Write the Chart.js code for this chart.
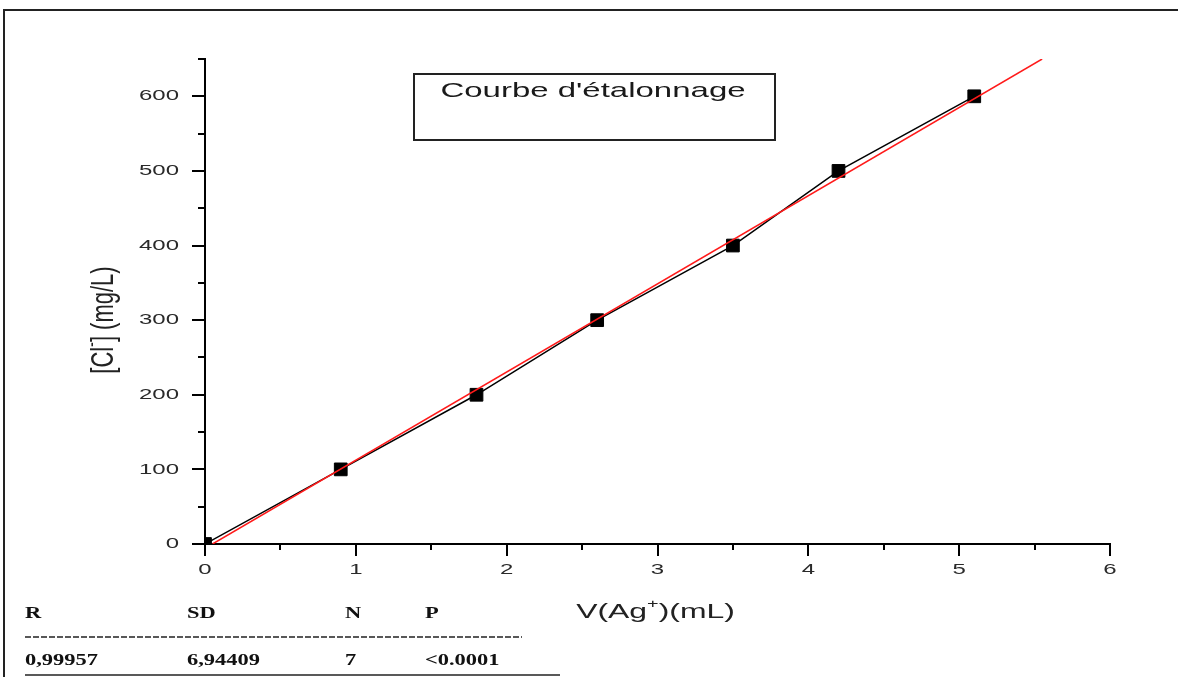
<!DOCTYPE html>
<html>
<head>
<meta charset="utf-8">
<title>Courbe d'étalonnage</title>
<script src="https://cdn.jsdelivr.net/npm/chart.js@4.4.0/dist/chart.umd.min.js"></script>
<style>
    html, body { margin: 0; padding: 0; background: #fff; }
    #wrap { width: 1178px; height: 677px; }
</style>
</head>
<body>
<div id="wrap"><canvas id="etalonChart" width="1178" height="677"></canvas></div>
<script>
// Mesures (volume d'AgNO3 versé / concentration en chlorures)
const volumes = [0, 0.9, 1.8, 2.6, 3.5, 4.2, 5.1];
const concentrations = [0, 100, 200, 300, 400, 500, 600];

// Droite d'ajustement linéaire (extrémités)
const fitVolumes = [0.05, 5.55];
const fitConcentrations = [0, 650];

// Tableau des statistiques sous le graphe
const statHeaders = ['R', 'SD', 'N', 'P'];
const statValues = ['0,99957', '6,94409', '7', '<0.0001'];

const chartTitle = "Courbe d'étalonnage";

// texte étiré horizontalement, comme sur la figure d'origine
function stretchText(ctx, text, x, y, sx, align) {
    ctx.save();
    ctx.translate(x, y);
    ctx.scale(sx, 1);
    ctx.textAlign = align || 'left';
    ctx.fillText(text, 0, 0);
    ctx.restore();
}

const decorPlugin = {
    id: 'decor',
    afterDraw(chart) {
        const ctx = chart.ctx;
        const xs = chart.scales.x;
        const ys = chart.scales.y;
        const area = chart.chartArea;

        ctx.save();

        // cadre
        ctx.strokeStyle = '#222';
        ctx.lineWidth = 2;
        ctx.beginPath();
        ctx.moveTo(4, 677);
        ctx.lineTo(4, 10);
        ctx.lineTo(1178, 10);
        ctx.stroke();

        // graduations
        ctx.strokeStyle = '#000';
        ctx.lineWidth = 2;
        ys.ticks.forEach(t => {
            const y = Math.round(ys.getPixelForValue(t.value));
            const major = t.value % 100 === 0;
            const len = major ? 13 : 7;
            ctx.beginPath();
            ctx.moveTo(area.left - len, y);
            ctx.lineTo(area.left, y);
            ctx.stroke();
        });
        xs.ticks.forEach(t => {
            const x = Math.round(xs.getPixelForValue(t.value));
            const major = Number.isInteger(t.value);
            const len = major ? 12 : 6;
            ctx.beginPath();
            ctx.moveTo(x, area.bottom);
            ctx.lineTo(x, area.bottom + len);
            ctx.stroke();
        });

        // libellés des graduations
        ctx.fillStyle = '#2a2a2a';
        ctx.font = '15px "Liberation Sans", Arial, sans-serif';
        ctx.textBaseline = 'middle';
        ys.ticks.forEach(t => {
            if (t.value % 100 !== 0) return;
            stretchText(ctx, String(t.value), area.left - 26, ys.getPixelForValue(t.value), 1.6, 'right');
        });
        xs.ticks.forEach(t => {
            if (!Number.isInteger(t.value)) return;
            stretchText(ctx, String(t.value), xs.getPixelForValue(t.value), area.bottom + 26, 1.6, 'center');
        });

        // titre de l'axe x : V(Ag+)(mL)
        ctx.fillStyle = '#222';
        ctx.font = '21px "Liberation Sans", Arial, sans-serif';
        ctx.textBaseline = 'alphabetic';
        const sx = 1.52;
        const part1 = 'V(Ag', part2 = ')(mL)';
        const supFont = '13px "Liberation Sans", Arial, sans-serif';
        const w1 = ctx.measureText(part1).width;
        const w3 = ctx.measureText(part2).width;
        ctx.font = supFont;
        const w2 = ctx.measureText('+').width;
        const total = (w1 + w2 + w3) * sx;
        let x0 = (area.left + area.right) / 2 - total / 2 - 2;
        const base = 618;
        ctx.font = '21px "Liberation Sans", Arial, sans-serif';
        stretchText(ctx, part1, x0, base, sx, 'left');
        ctx.font = supFont;
        stretchText(ctx, '+', x0 + w1 * sx, base - 10, sx, 'left');
        ctx.font = '21px "Liberation Sans", Arial, sans-serif';
        stretchText(ctx, part2, x0 + (w1 + w2) * sx, base, sx, 'left');

        // titre de l'axe y : [Cl-] (mg/L)
        const yFont = '22px "Liberation Sans", Arial, sans-serif';
        const ySup = '14px "Liberation Sans", Arial, sans-serif';
        ctx.font = yFont;
        const a1 = ctx.measureText('[Cl').width;
        const a3 = ctx.measureText('] (mg/L)').width;
        ctx.font = ySup;
        const a2 = ctx.measureText('-').width;
        const len = a1 + a2 + a3;
        ctx.save();
        ctx.translate(113, 320 + len / 2);
        ctx.scale(1.4, 1);
        ctx.rotate(-Math.PI / 2);
        ctx.textBaseline = 'alphabetic';
        ctx.textAlign = 'left';
        ctx.font = yFont;
        ctx.fillText('[Cl', 0, 0);
        ctx.font = ySup;
        ctx.fillText('-', a1, -11);
        ctx.font = yFont;
        ctx.fillText('] (mg/L)', a1 + a2, 0);
        ctx.restore();

        // cartouche du titre
        ctx.strokeStyle = '#222';
        ctx.lineWidth = 2;
        ctx.strokeRect(414, 74, 361, 66);
        ctx.fillStyle = '#1a1a1a';
        ctx.font = '21px "Liberation Sans", Arial, sans-serif';
        ctx.textBaseline = 'middle';
        stretchText(ctx, chartTitle, 593, 91, 1.57, 'center');

        // tableau des statistiques
        const cols = [25, 187, 345, 425];
        ctx.fillStyle = '#111';
        ctx.font = 'bold 17px "Liberation Serif", "Times New Roman", serif';
        ctx.textBaseline = 'middle';
        statHeaders.forEach((h, i) => stretchText(ctx, h, cols[i], 614, 1.32, 'left'));
        statValues.forEach((v, i) => stretchText(ctx, v, cols[i], 661, 1.32, 'left'));

        ctx.strokeStyle = '#222';
        ctx.lineWidth = 1.5;
        ctx.setLineDash([6, 2]);
        ctx.beginPath();
        ctx.moveTo(25, 637);
        ctx.lineTo(522, 637);
        ctx.stroke();
        ctx.setLineDash([]);
        ctx.beginPath();
        ctx.moveTo(25, 675);
        ctx.lineTo(560, 675);
        ctx.stroke();

        ctx.restore();
    }
};

const ctx = document.getElementById('etalonChart').getContext('2d');

new Chart(ctx, {
    type: 'scatter',
    data: {
        datasets: [
            {
                label: 'Ajustement linéaire',
                data: fitVolumes.map((v, i) => ({ x: v, y: fitConcentrations[i] })),
                showLine: true,
                borderColor: '#ff1a1a',
                borderWidth: 1.5,
                pointRadius: 0,
                order: 0
            },
            {
                label: 'Mesures',
                data: volumes.map((v, i) => ({ x: v, y: concentrations[i] })),
                showLine: true,
                borderColor: '#000',
                borderWidth: 1.5,
                backgroundColor: '#000',
                pointStyle: 'rect',
                pointRadius: 9,
                pointBorderWidth: 1,
                pointBorderColor: '#000',
                pointBackgroundColor: '#000',
                order: 1
            }
        ]
    },
    options: {
        responsive: false,
        animation: false,
        devicePixelRatio: 1,
        layout: { padding: { left: 0, right: 68, top: 59, bottom: 0 } },
        scales: {
            x: {
                type: 'linear',
                min: 0,
                max: 6,
                ticks: { stepSize: 0.5, display: false },
                grid: { drawOnChartArea: false, drawTicks: false },
                border: { display: true, color: '#000', width: 2 },
                afterFit: s => { s.height = 133; }
            },
            y: {
                type: 'linear',
                min: 0,
                max: 650,
                ticks: { stepSize: 50, display: false },
                grid: { drawOnChartArea: false, drawTicks: false },
                border: { display: true, color: '#000', width: 2 },
                afterFit: s => { s.width = 205; }
            }
        },
        plugins: {
            legend: { display: false },
            tooltip: { enabled: false }
        }
    },
    plugins: [decorPlugin]
});
</script>
</body>
</html>
